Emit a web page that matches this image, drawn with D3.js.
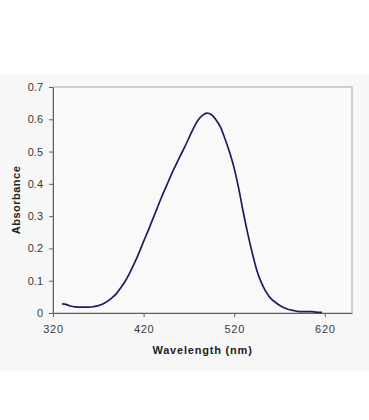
<!DOCTYPE html>
<html>
<head>
<meta charset="utf-8">
<script src="https://cdn.jsdelivr.net/npm/d3@7"></script>
<style>
  body { margin: 0; background: #fff; }
  svg { display: block; font-family: "Liberation Sans", Arial, sans-serif; }
</style>
</head>
<body>
<script>
// spectrum
const wavelength = [330, 335, 340, 345, 350, 355, 360, 365, 370, 375, 380, 385, 390, 395,
    400, 405, 410, 415, 420, 425, 430, 435, 440, 445, 450, 455, 460, 465, 470, 475,
    480, 485, 490, 495, 500, 505, 510, 515, 520, 525, 530, 535, 540, 545, 550, 555,
    560, 565, 570, 575, 580, 585, 590, 595, 600, 605, 610, 617];
const absorbance = [0.028, 0.026, 0.021, 0.019, 0.018, 0.018, 0.018, 0.020, 0.023, 0.028,
    0.036, 0.047, 0.060, 0.079, 0.100, 0.126, 0.155, 0.187, 0.222, 0.255, 0.290, 0.325,
    0.360, 0.392, 0.425, 0.455, 0.484, 0.512, 0.542, 0.572, 0.597, 0.612, 0.619, 0.614,
    0.598, 0.575, 0.538, 0.497, 0.448, 0.385, 0.312, 0.245, 0.185, 0.132, 0.094, 0.066,
    0.046, 0.034, 0.024, 0.016, 0.011, 0.008, 0.005, 0.004, 0.004, 0.004, 0.003, 0.002];
const xTicks = [320, 420, 520, 620];
const yTicks = [0, 0.1, 0.2, 0.3, 0.4, 0.5, 0.6, 0.7];

const width = 369, height = 420;
const margin = {top: 87, right: 17, bottom: 107, left: 53};

const svg = d3.select("body").append("svg")
    .attr("width", width)
    .attr("height", height);

// chart area background
svg.append("rect")
    .attr("x", 0).attr("y", 75)
    .attr("width", width).attr("height", 296)
    .attr("fill", "#f7f7f7");

const x = d3.scaleLinear()
    .domain([320, 650])
    .range([margin.left, width - margin.right]);

const y = d3.scaleLinear()
    .domain([0, 0.7])
    .range([height - margin.bottom, margin.top]);

// plot area
svg.append("rect")
    .attr("x", x(320)).attr("y", y(0.7))
    .attr("width", x(650) - x(320)).attr("height", y(0) - y(0.7))
    .attr("fill", "#f9f9f9")
    .attr("stroke", "#a8a8a8")
    .attr("stroke-width", 1);

const xAxis = svg.append("g")
    .attr("transform", "translate(0," + y(0) + ")")
    .call(d3.axisBottom(x).tickValues(xTicks).tickSize(4).tickPadding(8).tickSizeOuter(0));

const yAxis = svg.append("g")
    .attr("transform", "translate(" + x(320) + ",0)")
    .call(d3.axisLeft(y).tickValues(yTicks).tickSize(4).tickPadding(6).tickSizeOuter(0)
        .tickFormat(d => d === 0 ? "0" : d3.format(".1f")(d)));

[xAxis, yAxis].forEach(function(g) {
    g.select(".domain").attr("stroke", "#606060");
    g.selectAll(".tick line").attr("stroke", "#606060");
    g.selectAll(".tick text")
        .attr("fill", "#3a3a3a")
        .style("font-size", "11px");
});
xAxis.selectAll(".tick text").style("letter-spacing", "0.7px");

// spectrum line
const line = d3.line()
    .x((d, i) => x(wavelength[i]))
    .y(d => y(d))
    .curve(d3.curveMonotoneX);

svg.append("path")
    .datum(absorbance)
    .attr("d", line)
    .attr("fill", "none")
    .attr("stroke", "#1d1d5c")
    .attr("stroke-width", 1.7);

// axis titles
svg.append("text")
    .attr("x", (x(320) + x(650)) / 2)
    .attr("y", 354)
    .attr("text-anchor", "middle")
    .style("font-size", "11px")
    .style("font-weight", "bold")
    .style("letter-spacing", "0.8px")
    .attr("fill", "#222")
    .text("Wavelength (nm)");

svg.append("text")
    .attr("transform", "translate(19.5," + (y(0) + y(0.7)) / 2 + ") rotate(-90)")
    .attr("text-anchor", "middle")
    .style("font-size", "11px")
    .style("font-weight", "bold")
    .style("letter-spacing", "0.5px")
    .attr("fill", "#222")
    .text("Absorbance");
</script>
</body>
</html>
